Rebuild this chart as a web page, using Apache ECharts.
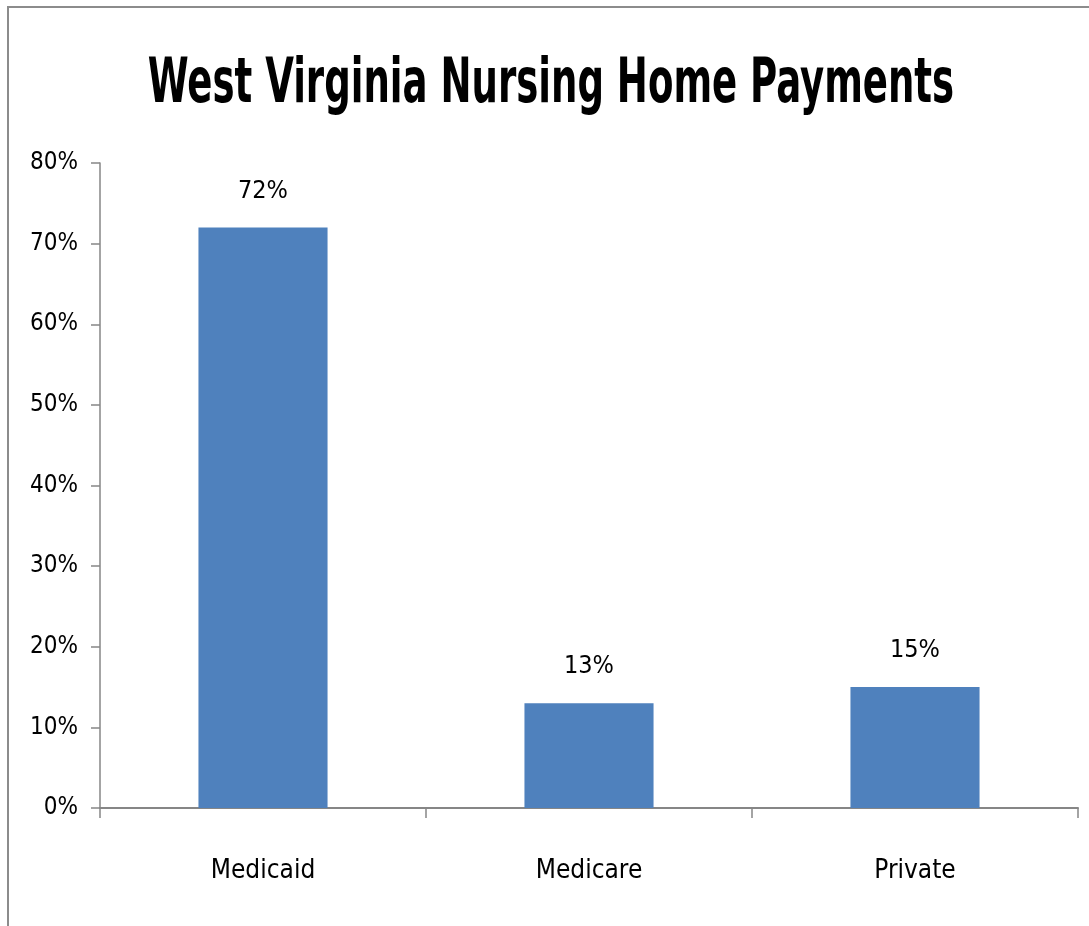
<!DOCTYPE html>
<html lang="en">
<head>
    <meta charset="UTF-8">
    <title>West Virginia Nursing Home Payments</title>
    <script src="https://cdn.jsdelivr.net/npm/echarts@6/dist/echarts.min.js"></script>
    <style>
        html, body { margin: 0; padding: 0; background: #ffffff; }
        #chart { width: 1089px; height: 926px; }
    </style>
</head>
<body>
<div id="chart"></div>
<script type="text/javascript">
    // chart data
    const titleText = 'West Virginia Nursing Home Payments';
    const categories = ['Medicaid', 'Medicare', 'Private'];
    const payments = [72, 13, 15];
    const yTicks = [0, 10, 20, 30, 40, 50, 60, 70, 80];

    const fontName = '"Liberation Sans Narrow", "DejaVu Sans Condensed", "Open Sans", sans-serif';

    let myChart = echarts.init(document.getElementById('chart'));
    let option = {
        backgroundColor: '#ffffff',
        textStyle: { fontFamily: fontName },
        graphic: [
            // outer chart frame
            {
                type: 'rect',
                shape: { x: 8, y: 7, width: 1200, height: 1000 },
                style: { fill: 'none', stroke: '#8c8c8c', lineWidth: 2 },
                silent: true
            },
            // title, squeezed horizontally like the original
            {
                type: 'text',
                x: 551,
                y: 86,
                scaleX: 0.665,
                scaleY: 1,
                style: {
                    text: titleText,
                    fontFamily: fontName,
                    fontWeight: 'bold',
                    fontSize: 62,
                    fill: '#000000',
                    align: 'center',
                    verticalAlign: 'middle'
                }
            }
        ],
        grid: {
            left: 100,
            right: 11,
            top: 163,
            bottom: 118,
            containLabel: false
        },
        xAxis: {
            type: 'category',
            data: categories,
            axisLine: { lineStyle: { color: '#868686', width: 2 } },
            axisTick: { show: true, alignWithLabel: false, length: 10, lineStyle: { color: '#868686', width: 1.5 } },
            axisLabel: { color: '#000000', fontSize: 26, margin: 50, fontFamily: fontName }
        },
        yAxis: {
            type: 'value',
            min: yTicks[0],
            max: yTicks[yTicks.length - 1],
            interval: 10,
            axisLine: { show: true, lineStyle: { color: '#868686', width: 1.5 } },
            axisTick: { show: true, length: 9, lineStyle: { color: '#868686', width: 1.5 } },
            splitLine: { show: false },
            axisLabel: {
                color: '#000000',
                fontSize: 24,
                margin: 22,
                fontFamily: fontName,
                formatter: v => v + '%'
            }
        },
        series: [{
            name: 'Payments',
            type: 'bar',
            data: payments,
            barWidth: '39.6%',
            itemStyle: { color: '#4f81bd' },
            label: {
                show: true,
                position: 'top',
                distance: 24,
                color: '#000000',
                fontSize: 25,
                fontFamily: fontName,
                formatter: p => p.value + '%'
            }
        }]
    };
    myChart.setOption(option);
</script>
</body>
</html>
